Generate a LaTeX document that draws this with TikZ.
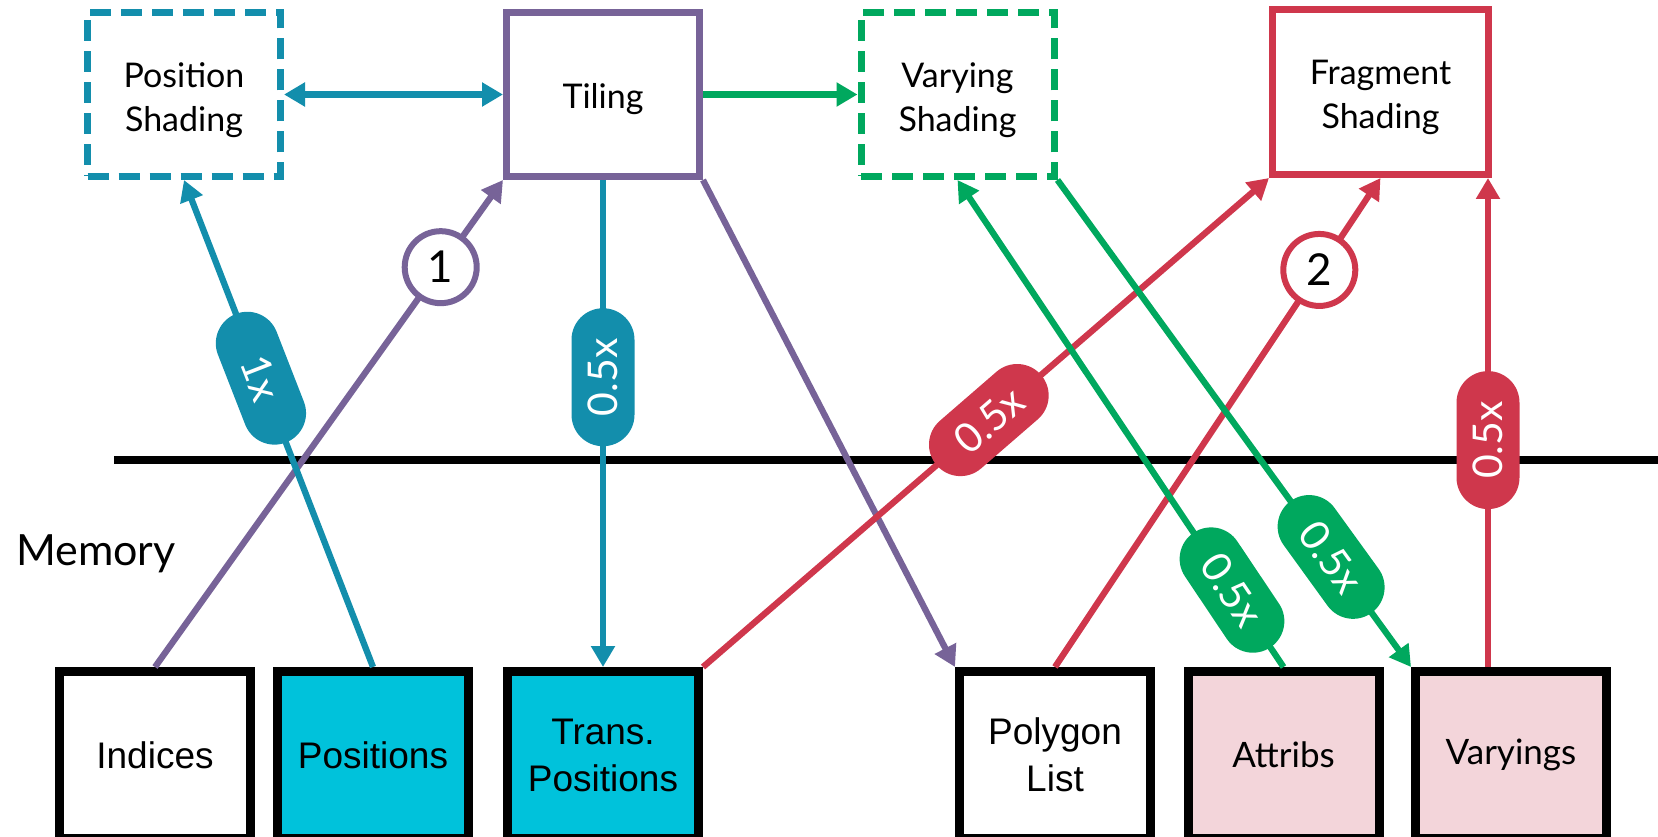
\documentclass[tikz,border=0pt]{standalone}
\usepackage{fontspec}
\setmainfont{Lato}
\newfontfamily\arialfont{Liberation Sans}
\usetikzlibrary{arrows.meta,shapes.misc,calc}

\definecolor{cTeal}{RGB}{19,142,172}
\definecolor{cPurple}{RGB}{119,99,152}
\definecolor{cGreen}{RGB}{0,168,94}
\definecolor{cRed}{RGB}{207,55,76}
\definecolor{cCyan}{RGB}{0,194,219}
\definecolor{cPink}{RGB}{243,213,218}

\tikzset{
  stage/.style={draw=#1, line width=7pt, minimum width=193pt, minimum height=164pt,
    inner sep=0pt, fill=white},
  dashedstage/.style={stage=#1, dash pattern=on 21pt off 10pt},
  stagetext/.style={inner sep=0pt, align=center, font=\fontsize{34}{44}\selectfont},
  membox/.style={draw=black, line width=9pt, fill=#1, minimum width=191pt,
    minimum height=167pt, inner sep=0pt, align=center},
  armem/.style={font=\arialfont\fontsize{37}{47}\selectfont},
  gimem/.style={font=\fontsize{35}{45}\selectfont},
  conn/.style={draw=#1, line width=6.3pt},
  pill/.style={rounded rectangle, fill=#1, text=white, minimum width=138pt,
    minimum height=63pt, inner sep=0pt, font=\fontsize{41}{44}\selectfont},
  ring/.style={circle, draw=#1, fill=white, line width=6pt, minimum size=72pt,
    inner sep=0pt, font=\fontsize{44}{44}\selectfont},
  >={Triangle[length=21pt,width=23pt]}
}

\begin{document}
\begin{tikzpicture}[x=1pt,y=-1pt]
\useasboundingbox (0,0) rectangle (1658,837);
\clip (0,0) rectangle (1658,837);

% processing stages
\node[dashedstage=cTeal]  (posshade) at (184,94.5)   {};
\node[stage=cPurple]      (tiling)   at (603,94.5)   {};
\node[dashedstage=cGreen] (varshade) at (957.5,94.5) {};
\node[stage=cRed, minimum width=216pt, minimum height=165pt] (fragshade) at (1380.5,92) {};
\node[stagetext] (posshadeT)  at ($(posshade)+(0,5.5)$)  {Position\\Shading};
\node[stagetext] (tilingT)    at ($(tiling)+(0,4.5)$)    {Tiling};
\node[stagetext] (varshadeT)  at ($(varshade)+(0,5.5)$)  {Varying\\Shading};
\node[stagetext] (fragshadeT) at ($(fragshade)+(0,5)$)   {Fragment\\Shading};

% memory boundary
\draw[line width=8pt] (114,460) coordinate (memL) -- (1658,460) coordinate (memR);
\node[anchor=base west, inner sep=0pt, font=\fontsize{43}{43}\selectfont] (memlabel) at (16,565) {Memory};

% memory buffers
\node[membox=white, armem] (indices)   at (155,755)    {Indices};
\node[membox=cCyan, armem] (positions) at (373,755)    {Positions};
\node[membox=cCyan, armem] (transpos)  at (603,755)    {Trans.\\Positions};
\node[membox=white, armem] (polylist)  at (1055,755)   {Polygon\\List};
\node[membox=cPink, gimem] (attribs)   at (1283.5,755) {Attribs};
\node[membox=cPink, gimem] (varyings)  at (1511,755)   {Varyings};

% stage to stage
\draw[conn=cTeal, <->] (posshade.east) -- (tiling.west);
\draw[conn=cGreen, ->] (tiling.east) -- (varshade.west);

% memory traffic
\draw[conn=cPurple, ->] (indices.north) -- coordinate[pos=0.821] (c1) (tiling.south west);
\draw[conn=cTeal, ->] (positions.north) -- coordinate[pos=0.593] (p1) (posshade.south);
\draw[conn=cTeal, ->] (tiling.south) -- coordinate[pos=0.405] (p2) (transpos.north);
\draw[conn=cPurple, ->] (tiling.south east) -- (polylist.north west);
\draw[conn=cRed, ->] (transpos.north east) -- coordinate[pos=0.505] (p3) (fragshade.south west);
\draw[conn=cRed, ->] (polylist.north) -- coordinate[pos=0.812] (c2) (fragshade.south);
\draw[conn=cGreen, ->] (attribs.north) -- coordinate[pos=0.158] (p4) (varshade.south);
\draw[conn=cGreen, ->] (varshade.south east) -- coordinate[pos=0.774] (p5) (varyings.north west);
\draw[conn=cRed, ->] ($(varyings.north -| fragshade.south east)+(-4,0)$) -- coordinate[pos=0.464] (p6) ($(fragshade.south east)+(-4,0)$);

% bandwidth labels and pass markers
\node[pill=cTeal, rotate=-68.7] (l1) at (p1) {1x};
\node[pill=cTeal, rotate=90]    (l2) at (p2) {0.5x};
\node[pill=cRed, rotate=40.9]   (l3) at (p3) {0.5x};
\node[pill=cGreen, rotate=-56.2] (l4) at (p4) {0.5x};
\node[pill=cGreen, rotate=-54.1] (l5) at (p5) {0.5x};
\node[pill=cRed, rotate=90]     (l6) at (p6) {0.5x};
\node[ring=cPurple] (m1) at (c1) {1};
\node[ring=cRed]    (m2) at (c2) {2};
\end{tikzpicture}
\end{document}
